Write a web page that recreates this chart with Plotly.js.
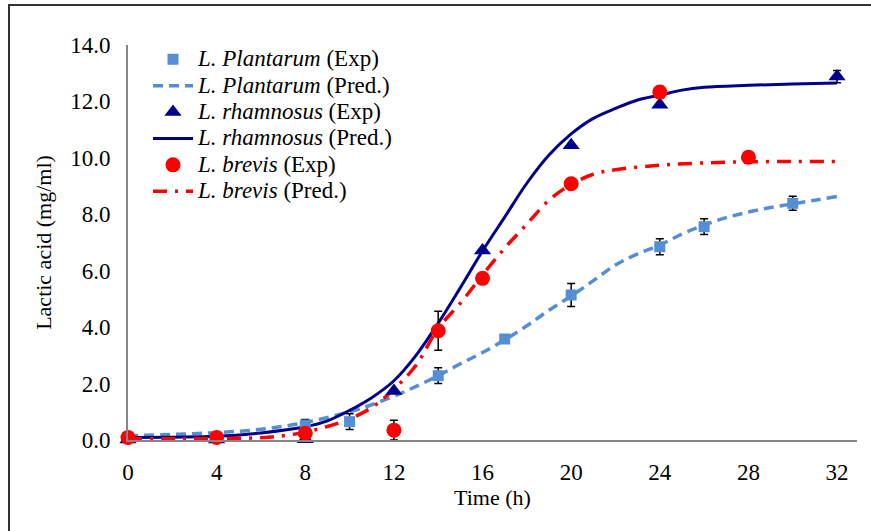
<!DOCTYPE html>
<html>
<head>
<meta charset="utf-8">
<script src="https://cdn.plot.ly/plotly-3.0.1.min.js"></script>
<style>
  html, body { margin: 0; padding: 0; background: #fff; }
  #wrap { position: relative; width: 871px; height: 531px; overflow: hidden; }
  #chart { position: absolute; left: 0; top: 0; width: 871px; height: 531px; }
  #frame { position: absolute; left: 8px; top: 4px; width: 900px; height: 600px;
           border-left: 2px solid #333; border-top: 2px solid #333; pointer-events: none; }
</style>
</head>
<body>
<div id="wrap">
  <div id="chart"></div>
  <div id="frame"></div>
</div>
<script>
// ---- Experimental data ----
const plantExpX   = [0, 4, 8, 10, 14, 17, 20, 24, 26, 30];
const plantExpY   = [0.1, 0.1, 0.53, 0.65, 2.28, 3.58, 5.14, 6.85, 7.56, 8.39];
const plantExpErr = [null, null, 0.2, 0.28, 0.28, null, 0.41, 0.28, 0.28, 0.25];

const rhamExpX   = [0, 4, 8, 12, 16, 20, 24, 32];
const rhamExpY   = [0.02, 0.02, 0.03, 1.74, 6.72, 10.45, 11.88, 12.88];
const rhamExpErr = [null, null, null, null, null, null, null, 0.22];

const brevExpX   = [0, 4, 8, 12, 14, 16, 20, 24, 28];
const brevExpY   = [0.09, 0.09, 0.24, 0.35, 3.87, 5.73, 9.08, 12.33, 10.02];
const brevExpErr = [null, null, null, 0.35, 0.69, null, null, 0.2, 0.2];

// ---- Predicted curves ----
const plantPredX = [0, 2, 4, 6, 8, 10, 11, 12, 13, 14, 15, 16, 17, 18, 19, 20, 21, 22, 23, 24, 25, 26, 27, 28, 29, 30, 31, 32];
const plantPredY = [0.15, 0.2, 0.26, 0.38, 0.62, 1.0, 1.25, 1.55, 1.9, 2.28, 2.7, 3.1, 3.55, 4.05, 4.6, 5.1, 5.65, 6.2, 6.6, 6.91, 7.3, 7.62, 7.88, 8.08, 8.24, 8.37, 8.5, 8.63];

const rhamPredX = [0, 2, 4, 6, 8, 9, 10, 11, 12, 13, 14, 15, 16, 17, 18, 19, 20, 21, 22, 23, 24, 25, 26, 28, 30, 32];
const rhamPredY = [0.09, 0.1, 0.13, 0.25, 0.47, 0.68, 1.05, 1.5, 2.1, 3.0, 4.14, 5.4, 6.7, 7.9, 9.1, 10.1, 10.85, 11.4, 11.75, 12.05, 12.22, 12.4, 12.5, 12.57, 12.62, 12.65];

const brevPredX = [0, 2, 4, 6, 7, 8, 9, 10, 11, 12, 13, 14, 15, 16, 17, 18, 19, 20, 21, 22, 24, 26, 28, 30, 32];
const brevPredY = [0.05, 0.04, 0.05, 0.08, 0.15, 0.28, 0.48, 0.75, 1.15, 1.8, 2.65, 3.96, 4.85, 5.85, 6.8, 7.65, 8.5, 9.06, 9.42, 9.58, 9.74, 9.82, 9.86, 9.87, 9.87];

// ---- Tick labels ----
const xTicks = [0, 4, 8, 12, 16, 20, 24, 28, 32];
const yTicks = [0, 2, 4, 6, 8, 10, 12, 14];
const yTickText = ['0.0', '2.0', '4.0', '6.0', '8.0', '10.0', '12.0', '14.0'];

const cPlant = '#558ED5';
const cRham  = '#00008B';
const cBrev  = '#FF0000';

function err(a) {
  return { type: 'data', array: a, visible: true, color: '#000', thickness: 1.5, width: 4 };
}
function lg(species, kind) {
  return '<span style="font-size:23px"><i>' + species + '</i> (' + kind + ')</span>';
}

const traces = [
  { x: plantPredX, y: plantPredY, mode: 'lines', name: lg('L. Plantarum', 'Pred.'),
    line: { color: cPlant, width: 3.5, dash: '10px,6px', shape: 'spline' }, legendrank: 2, cliponaxis: false },
  { x: rhamPredX, y: rhamPredY, mode: 'lines', name: lg('L. rhamnosus', 'Pred.'),
    line: { color: cRham, width: 3, shape: 'spline' }, legendrank: 4, cliponaxis: false },
  { x: brevPredX, y: brevPredY, mode: 'lines', name: lg('L. brevis', 'Pred.'),
    line: { color: cBrev, width: 3.5, dash: '14px,8px,3px,8px', shape: 'spline' }, legendrank: 6, cliponaxis: false },
  { x: plantExpX, y: plantExpY, mode: 'markers', name: lg('L. Plantarum', 'Exp'),
    marker: { symbol: 'square', color: cPlant, size: 11 }, error_y: err(plantExpErr), legendrank: 1, cliponaxis: false },
  { x: rhamExpX, y: rhamExpY, mode: 'markers', name: lg('L. rhamnosus', 'Exp'),
    marker: { symbol: 'triangle-up', color: cRham, size: 15 }, error_y: err(rhamExpErr), legendrank: 3, cliponaxis: false },
  { x: brevExpX, y: brevExpY, mode: 'markers', name: lg('L. brevis', 'Exp'),
    marker: { symbol: 'circle', color: cBrev, size: 15 }, error_y: err(brevExpErr), legendrank: 5, cliponaxis: false }
];

const fontFam = '"Liberation Serif", "Times New Roman", Times, serif';

const layout = {
  width: 871, height: 531,
  margin: { l: 128, r: 14, t: 45, b: 91 },
  paper_bgcolor: '#ffffff', plot_bgcolor: '#ffffff',
  font: { family: fontFam, size: 22, color: '#000' },
  showlegend: true,
  legend: {
    x: (148 - 128) / 729, y: 1.01, xanchor: 'left', yanchor: 'top',
    bgcolor: 'rgba(0,0,0,0)', borderwidth: 0,
    font: { family: fontFam, size: 18, color: '#000' },
    tracegroupgap: 0, itemwidth: 40
  },
  xaxis: {
    range: [0, 32.9], tickmode: 'array', tickvals: xTicks, ticktext: xTicks.map(String),
    showline: true, linecolor: '#868686', linewidth: 2, showgrid: false, zeroline: false,
    ticks: '', tickfont: { family: fontFam, size: 23 }, ticklabelstandoff: 10,
    title: { text: 'Time (h)', font: { family: fontFam, size: 22 }, standoff: 4 }
  },
  yaxis: {
    range: [0, 14], tickmode: 'array', tickvals: yTicks, ticktext: yTickText,
    showline: true, linecolor: '#868686', linewidth: 2, showgrid: false, zeroline: false,
    ticks: '', tickfont: { family: fontFam, size: 23 }, ticklabelstandoff: 11,
    title: { text: 'Lactic acid (mg/ml)', font: { family: fontFam, size: 22 }, standoff: 12 }
  }
};

Plotly.newPlot('chart', traces, layout, { displayModeBar: false, staticPlot: true });
</script>
</body>
</html>
